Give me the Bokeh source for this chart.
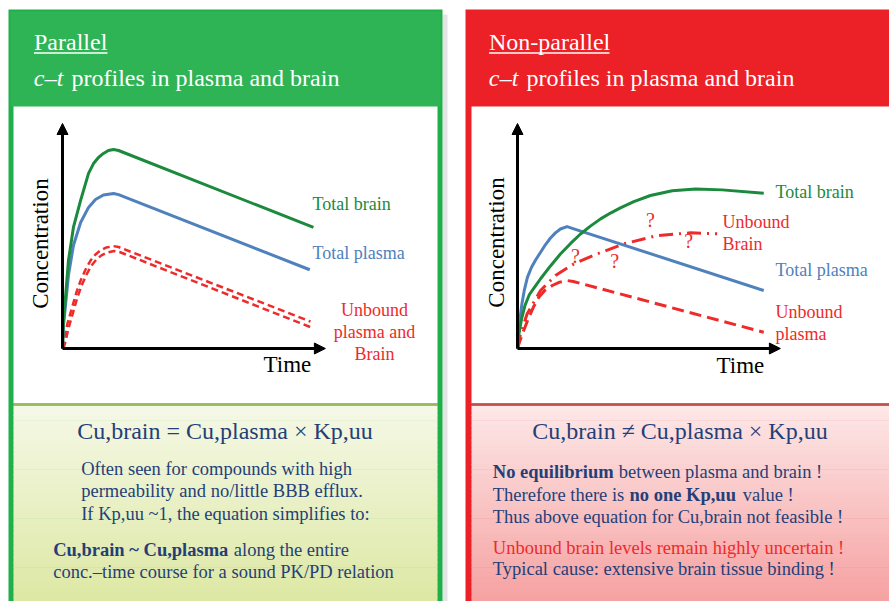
import numpy as np
from bokeh.plotting import figure
from bokeh.models import Range1d, Arrow, NormalHead
from bokeh.core.properties import value
from bokeh.embed import file_html
from bokeh.resources import INLINE

# ---------------- data (chart units: time, concentration) ----------------
# Left panel: parallel profiles
L_BRAIN_T = [0, 0.04, 0.12, 0.24, 0.44, 0.73, 1.05, 1.25, 1.45, 1.65, 1.85, 2.06, 2.26, 10.12]
L_BRAIN_C = [0, 1.24, 2.27, 3.91, 5.38, 6.58, 7.78, 8.22, 8.49, 8.67, 8.80, 8.84, 8.80, 5.38]
L_PLASMA_T = [0, 0.04, 0.12, 0.24, 0.44, 0.73, 1.05, 1.33, 1.65, 2.06, 2.26, 9.97]
L_PLASMA_C = [0, 1.02, 1.91, 3.24, 4.58, 5.60, 6.27, 6.62, 6.82, 6.89, 6.84, 3.50]
L_UNB_A_T = [0, 0.08, 0.20, 0.39, 0.56, 0.73, 0.93, 1.13, 1.33, 1.53, 1.77, 2.06, 2.26, 10.0]
L_UNB_A_C = [0, 0.53, 1.11, 1.84, 2.49, 3.02, 3.51, 3.91, 4.18, 4.36, 4.49, 4.55, 4.51, 1.20]
L_UNB_B_T = [0.04, 0.12, 0.24, 0.43, 0.60, 0.77, 0.97, 1.17, 1.37, 1.57, 1.81, 2.08, 2.30, 10.0]
L_UNB_B_C = [0, 0.31, 0.89, 1.62, 2.27, 2.80, 3.29, 3.69, 3.96, 4.14, 4.27, 4.33, 4.29, 0.95]

# Right panel: non-parallel profiles
R_BRAIN_T = [0, 0.06, 0.16, 0.30, 0.48, 0.69, 0.93, 1.33, 1.73, 2.14, 2.54, 2.94, 3.35,
             3.75, 4.15, 4.69, 5.36, 6.24, 7.18, 8.25, 9.93]
R_BRAIN_C = [0, 0.67, 1.29, 1.91, 2.40, 2.73, 3.10, 3.67, 4.20, 4.67, 5.09, 5.44, 5.76,
             6.02, 6.25, 6.53, 6.80, 7.01, 7.09, 7.05, 6.90]
R_PLASMA_T = [0, 0.04, 0.10, 0.18, 0.28, 0.40, 0.56, 0.73, 0.93, 1.13, 1.33, 1.53, 1.73,
              2.00, 2.27, 9.93]
R_PLASMA_C = [0, 0.67, 1.33, 2.00, 2.62, 3.16, 3.60, 3.93, 4.28, 4.62, 4.91, 5.14, 5.31,
              5.42, 5.32, 2.58]
R_UNB_PL_T = [0, 0.10, 0.25, 0.46, 0.66, 0.86, 1.10, 1.40, 1.70, 2.00, 2.25, 9.93]
R_UNB_PL_C = [0, 0.35, 0.80, 1.39, 1.88, 2.28, 2.58, 2.80, 2.95, 3.02, 2.98, 0.72]
R_UNB_BR_T = [0, 0.12, 0.39, 0.93, 1.53, 2.27, 3.20, 4.29, 5.63, 6.98, 8.05]
R_UNB_BR_C = [0, 0.65, 1.54, 2.58, 3.24, 3.76, 4.20, 4.65, 5.02, 5.14, 5.10]
Q_T = [2.34, 3.92, 5.36, 6.90]
Q_C = [4.13, 3.91, 5.69, 4.80]

AX_T_END = 10.6
AX_C_END = 10.0

# ---------------- layout / style ----------------
FONT = "Liberation Serif"
GREEN_HDR = "#2fb455"
GREEN_BORDER = "#1fb04a"
RED_HDR = "#ec2027"
C_GREEN = "#1b8a3d"
C_BLUE = "#4f81bd"
C_RED = "#ee2a2a"
C_TEXT = "#243f78"

W, H = 889, 601
X_LO, X_HI = 0, W
Y_LO, Y_HI = 0, H
SX, SY = 24.8, 22.5            # px per chart unit
LX0, RX0, Y0 = 62, 517, 348    # chart origins (page px)
BASE_K = 0.37                  # renderer's alphabetic-baseline offset (fraction of font size)

p = figure(width=W, height=H, x_range=Range1d(X_LO, X_HI), y_range=Range1d(Y_HI, Y_LO),
           output_backend="svg", toolbar_location=None,
           x_axis_location=None, y_axis_location=None, min_border=0,
           outline_line_color=None, background_fill_color="white",
           border_fill_color="white")
p.grid.visible = False
p.extra_x_ranges = {
    "lt": Range1d((X_LO - LX0) / SX, (X_HI - LX0) / SX),
    "rt": Range1d((X_LO - RX0) / SX, (X_HI - RX0) / SX),
}
p.extra_y_ranges = {
    "lc": Range1d((Y0 - Y_HI) / SY, (Y0 - Y_LO) / SY),
    "rc": Range1d((Y0 - Y_HI) / SY, (Y0 - Y_LO) / SY),
}

# ---------------- panels ----------------
def gradient(x0, x1, y0, y1, c0, c1, n=40):
    ys = np.linspace(y0, y1, n + 1)
    cols = []
    for i in range(n):
        f = i / (n - 1)
        r, g, b = [int(round(a + (bb - a) * f)) for a, bb in zip(c0, c1)]
        cols.append("#%02x%02x%02x" % (r, g, b))
    p.quad(left=[x0] * n, right=[x1] * n, top=list(ys[:-1]), bottom=list(ys[1:] + 0.6),
           fill_color=cols, line_color=None)

# shadow right of left panel
p.quad(left=[442], right=[447], top=[14], bottom=[601], fill_color="#e4e4e4", line_color=None)
# left panel
p.quad(left=[8], right=[442], top=[9], bottom=[601], fill_color=GREEN_BORDER, line_color=None)
p.quad(left=[10], right=[440], top=[11], bottom=[106], fill_color=GREEN_HDR, line_color=None)
p.quad(left=[13], right=[437], top=[106], bottom=[403], fill_color="white", line_color=None)
gradient(13, 437, 405, 601, (245, 248, 230), (221, 232, 164))
p.segment([13], [404], [437], [404], line_color="#9bbb59", line_width=2.5)
# right panel
p.quad(left=[465], right=[895], top=[9], bottom=[601], fill_color=RED_HDR, line_color=None)
p.quad(left=[471], right=[895], top=[106], bottom=[403], fill_color="white", line_color=None)
gradient(471, 895, 405, 601, (253, 231, 231), (246, 162, 162))
p.segment([471], [404], [895], [404], line_color="#c0504d", line_width=2.5)

# ---------------- text helper ----------------
def txt(x, y, s, size, color, align="left", baseline="alphabetic", style="normal", angle=0.0):
    px = float(size.replace("px", ""))
    if baseline == "alphabetic":
        y = y - BASE_K * px
    p.text(x=[x], y=[y], text=[s], text_font=value(FONT), text_font_size=value(size),
           text_color=color, text_align=align, text_baseline=baseline,
           text_font_style=style, angle=angle)

# headers
for ox, title, ul_end in [(0, "Parallel", 107), (455, "Non-parallel", 609)]:
    txt(33.5 + ox, 50, title, "24px", "white")
    p.segment([33.5 + ox], [52.5], [ul_end], [52.5], line_color="white", line_width=1.3)
    txt(33.3 + ox, 86, "c", "24px", "white", style="italic")
    txt(44.2 + ox, 86, "\u2013", "24px", "white")
    txt(56.3 + ox, 86, "t", "24px", "white", style="italic")
    txt(71.0 + ox, 86, "profiles in plasma and brain", "24px", "white")

# ---------------- charts ----------------
for xr, yr in [("lt", "lc"), ("rt", "rc")]:
    for xe, ye in [(AX_T_END, 0), (0, AX_C_END)]:
        p.add_layout(Arrow(end=NormalHead(size=11, fill_color="black", line_color="black"),
                           x_start=0, y_start=0, x_end=xe, y_end=ye,
                           x_range_name=xr, y_range_name=yr,
                           line_color="black", line_width=3))

p.line(L_UNB_A_T, L_UNB_A_C, x_range_name="lt", y_range_name="lc", line_color=C_RED,
       line_width=2.5, line_dash="7 4", line_join="round")
p.line(L_UNB_B_T, L_UNB_B_C, x_range_name="lt", y_range_name="lc", line_color=C_RED,
       line_width=2.5, line_dash="7 4", line_join="round")
p.line(L_PLASMA_T, L_PLASMA_C, x_range_name="lt", y_range_name="lc", line_color=C_BLUE,
       line_width=3, line_join="round")
p.line(L_BRAIN_T, L_BRAIN_C, x_range_name="lt", y_range_name="lc", line_color=C_GREEN,
       line_width=3, line_join="round")

p.line(R_UNB_PL_T, R_UNB_PL_C, x_range_name="rt", y_range_name="rc", line_color=C_RED,
       line_width=3, line_dash="12 6", line_join="round")
p.line(R_UNB_BR_T, R_UNB_BR_C, x_range_name="rt", y_range_name="rc", line_color=C_RED,
       line_width=3, line_dash="14 6 2 6", line_join="round")
p.line(R_PLASMA_T, R_PLASMA_C, x_range_name="rt", y_range_name="rc", line_color=C_BLUE,
       line_width=3, line_join="round")
p.line(R_BRAIN_T, R_BRAIN_C, x_range_name="rt", y_range_name="rc", line_color=C_GREEN,
       line_width=3, line_join="round")
p.text(x=Q_T, y=Q_C, text=["?"] * len(Q_T), x_range_name="rt", y_range_name="rc",
       text_font=value(FONT), text_font_size=value("20px"), text_color=C_RED,
       text_align="center", text_baseline="middle")

# chart labels - left
txt(40, 243, "Concentration", "23px", "black", align="center", baseline="middle", angle=np.pi / 2)
txt(263, 373, "Time", "23px", "black")
txt(312, 210, "Total brain", "18px", C_GREEN)
txt(312, 259, "Total plasma", "18px", C_BLUE)
txt(374, 316.5, "Unbound", "18px", C_RED, align="center")
txt(374, 338.5, "plasma and", "18px", C_RED, align="center")
txt(374, 360.5, "Brain", "18px", C_RED, align="center")
# chart labels - right
txt(495.5, 242, "Concentration", "23px", "black", align="center", baseline="middle", angle=np.pi / 2)
txt(716, 374, "Time", "23px", "black")
txt(775, 198, "Total brain", "18px", C_GREEN)
txt(722, 228, "Unbound", "18px", C_RED)
txt(722, 250, "Brain", "18px", C_RED)
txt(775, 276, "Total plasma", "18px", C_BLUE)
txt(775, 318.5, "Unbound", "18px", C_RED)
txt(775, 340.5, "plasma", "18px", C_RED)

# ---------------- bottom texts ----------------
txt(224.5, 439.5, "Cu,brain = Cu,plasma \u00d7 Kp,uu", "24px", C_TEXT, align="center")
txt(80.7, 475, "Often seen for compounds with high", "18.5px", C_TEXT)
txt(80.7, 497, "permeability and no/little BBB efflux.", "18.5px", C_TEXT)
txt(80.7, 520, "If Kp,uu ~1, the equation simplifies to:", "18.5px", C_TEXT)
txt(52.7, 556.5, "Cu,brain ~ Cu,plasma", "18.5px", C_TEXT, style="bold")
txt(233.3, 556.5, "along the entire", "18.5px", C_TEXT)
txt(52.7, 578.5, "conc.\u2013time course for a sound PK/PD relation", "18.5px", C_TEXT)

txt(679.5, 439.5, "Cu,brain \u2260 Cu,plasma \u00d7 Kp,uu", "24px", C_TEXT, align="center")
txt(492.3, 478.5, "No equilibrium", "18.5px", C_TEXT, style="bold")
txt(618.3, 478.5, "between plasma and brain !", "18.5px", C_TEXT)
txt(492.3, 501.5, "Therefore there is", "18.5px", C_TEXT)
txt(629, 501.5, "no one Kp,uu", "18.5px", C_TEXT, style="bold")
txt(742.3, 501.5, "value !", "18.5px", C_TEXT)
txt(492.3, 523.5, "Thus above equation for Cu,brain not feasible !", "18.5px", C_TEXT)
txt(492.3, 554, "Unbound brain levels remain highly uncertain !", "18.5px", C_RED)
txt(492.3, 575.5, "Typical cause: extensive brain tissue binding !", "18.5px", C_TEXT)

open("out.html", "w").write(file_html(p, INLINE))
